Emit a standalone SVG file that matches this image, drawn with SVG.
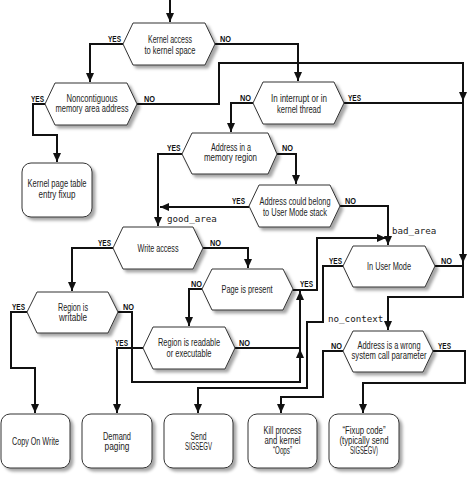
<svg xmlns="http://www.w3.org/2000/svg" width="468" height="477" viewBox="0 0 468 477">
<defs>
<style>
.shape{fill:#fff;stroke:#333;stroke-width:1;filter:url(#sh)}
.t{font-family:"Liberation Sans",Arial,sans-serif;font-size:10.5px;fill:#222;text-anchor:middle}
.lb{font-family:"Liberation Sans",Arial,sans-serif;font-size:9.5px;font-weight:bold;fill:#111}
.m{font-family:"DejaVu Sans Mono","Liberation Mono",monospace;font-size:9.2px;fill:#222}
.c path{fill:none;stroke:#111;stroke-width:2;stroke-linejoin:miter}
.c path.a{marker-end:url(#ar)}
</style>
<filter id="sh" x="-15%" y="-15%" width="140%" height="150%">
<feDropShadow dx="3" dy="3" stdDeviation="1.8" flood-color="#000" flood-opacity="0.35"/>
</filter>
<marker id="ar" viewBox="0 0 10 10" refX="10" refY="5" markerWidth="9" markerHeight="8" markerUnits="userSpaceOnUse" orient="auto" preserveAspectRatio="none">
<path d="M0,0 L10,5 L0,10 z" fill="#111"/>
</marker>
</defs>

<g id="connectors" class="c">
<path class="a" d="M170,0 V22"/>
<path class="a" d="M123,44 H90 V82"/>
<path class="a" d="M215,44 H298 V81"/>
<path class="a" d="M45,104 H33 V135 H57 V162"/>
<path class="a" d="M137,104 H219 V63 H463 V101"/>
<path class="a" d="M463,100 V263"/>
<path class="a" d="M463,262 V297 H388 V330"/>
<path d="M435,266 H464"/>
<path d="M344,103 H464"/>
<path class="a" d="M253,103 H231 V132"/>
<path class="a" d="M277,154 H296 V184"/>
<path class="a" d="M182,154 H158 V226"/>
<path class="a" d="M249,207 H160"/>
<path class="a" d="M340,206 H388 V245"/>
<path class="a" d="M113,248 H72 V291"/>
<path class="a" d="M203,248 H248 V268"/>
<path class="a" d="M202,289 H189 V326"/>
<path class="a" d="M293,290 H317 V238 H386"/>
<path class="a" d="M235,348 H300 V291"/>
<path class="a" d="M118,312 H132 V382 H300 V349"/>
<path class="a" d="M27,312 H11 V368 H35 V413"/>
<path class="a" d="M143,348 H117 V413"/>
<path class="a" d="M343,266 H323 V322 H307 V388 H198 V413"/>
<path class="a" d="M343,351 H323 V397 H281 V413"/>
<path class="a" d="M433,351 H465 V383 H363 V413"/>
</g>

<g id="n-kernel-access">
<polygon class="shape" points="123,44 133,23 205,23 215,44 205,65 133,65"/>
<text class="t" transform="translate(170,42.5) scale(0.75,1)" textLength="58.7" lengthAdjust="spacingAndGlyphs">Kernel access</text>
<text class="t" transform="translate(170,53.5) scale(0.75,1)" textLength="68" lengthAdjust="spacingAndGlyphs">to kernel space</text>
<text class="lb" transform="translate(108,42) scale(0.75,1)" textLength="17.3" lengthAdjust="spacingAndGlyphs">YES</text>
<text class="lb" transform="translate(220,42) scale(0.75,1)" textLength="14.7" lengthAdjust="spacingAndGlyphs">NO</text>
</g>

<g id="n-noncontiguous">
<polygon class="shape" points="45,104 55,83 127,83 137,104 127,125 55,125"/>
<text class="t" transform="translate(92,101.5) scale(0.75,1)" textLength="68" lengthAdjust="spacingAndGlyphs">Noncontiguous</text>
<text class="t" transform="translate(92,111.5) scale(0.75,1)" textLength="97.3" lengthAdjust="spacingAndGlyphs">memory area address</text>
<text class="lb" transform="translate(31,101.5) scale(0.75,1)" textLength="17.3" lengthAdjust="spacingAndGlyphs">YES</text>
<text class="lb" transform="translate(144,101.5) scale(0.75,1)" textLength="14.7" lengthAdjust="spacingAndGlyphs">NO</text>
</g>

<g id="n-interrupt">
<polygon class="shape" points="253,103 263,82 334,82 344,103 334,124 263,124"/>
<text class="t" transform="translate(299,101.5) scale(0.75,1)" textLength="74.7" lengthAdjust="spacingAndGlyphs">In interrupt or in</text>
<text class="t" transform="translate(299,112.5) scale(0.75,1)" textLength="58.7" lengthAdjust="spacingAndGlyphs">kernel thread</text>
<text class="lb" transform="translate(240,101) scale(0.75,1)" textLength="14.7" lengthAdjust="spacingAndGlyphs">NO</text>
<text class="lb" transform="translate(348,101) scale(0.75,1)" textLength="17.3" lengthAdjust="spacingAndGlyphs">YES</text>
</g>

<g id="n-kernel-fixup">
<rect class="shape" x="22" y="163" width="70" height="54" rx="9"/>
<text class="t" transform="translate(57,187) scale(0.75,1)" textLength="78.7" lengthAdjust="spacingAndGlyphs">Kernel page table</text>
<text class="t" transform="translate(57,197.5) scale(0.75,1)" textLength="49.3" lengthAdjust="spacingAndGlyphs">entry fixup</text>
</g>

<g id="n-address-region">
<polygon class="shape" points="182,154 192,133 268,133 277,154 268,174 192,174"/>
<text class="t" transform="translate(231,150.5) scale(0.75,1)" textLength="53.3" lengthAdjust="spacingAndGlyphs">Address in a</text>
<text class="t" transform="translate(230.5,160.5) scale(0.75,1)" textLength="70.7" lengthAdjust="spacingAndGlyphs">memory region</text>
<text class="lb" transform="translate(167,151) scale(0.75,1)" textLength="18" lengthAdjust="spacingAndGlyphs">YES</text>
<text class="lb" transform="translate(282,151) scale(0.75,1)" textLength="14.7" lengthAdjust="spacingAndGlyphs">NO</text>
</g>

<g id="n-address-stack">
<polygon class="shape" points="249,206 259,185 330,185 340,206 330,227 259,227"/>
<text class="t" transform="translate(295,204.5) scale(0.75,1)" textLength="94.7" lengthAdjust="spacingAndGlyphs">Address could belong</text>
<text class="t" transform="translate(295,215.5) scale(0.75,1)" textLength="85.3" lengthAdjust="spacingAndGlyphs">to User Mode stack</text>
<text class="lb" transform="translate(232,203.5) scale(0.75,1)" textLength="17.3" lengthAdjust="spacingAndGlyphs">YES</text>
<text class="lb" transform="translate(345,203.5) scale(0.75,1)" textLength="14.7" lengthAdjust="spacingAndGlyphs">NO</text>
</g>

<g id="labels-mono">
<text class="m" x="167" y="221.5">good_area</text>
<text class="m" x="392" y="234">bad_area</text>
<text class="m" x="328" y="322">no_context</text>
</g>

<g id="n-write-access">
<polygon class="shape" points="113,248 123,227 193,227 203,248 193,269 123,269"/>
<text class="t" transform="translate(158,251.5) scale(0.75,1)" textLength="54.7" lengthAdjust="spacingAndGlyphs">Write access</text>
<text class="lb" transform="translate(98,246) scale(0.75,1)" textLength="17.3" lengthAdjust="spacingAndGlyphs">YES</text>
<text class="lb" transform="translate(210,246) scale(0.75,1)" textLength="14.7" lengthAdjust="spacingAndGlyphs">NO</text>
</g>

<g id="n-page-present">
<polygon class="shape" points="202,289 212,269 283,269 293,289 283,310 212,310"/>
<text class="t" transform="translate(247,292.5) scale(0.75,1)" textLength="68" lengthAdjust="spacingAndGlyphs">Page is present</text>
<text class="lb" transform="translate(191,287) scale(0.75,1)" textLength="14.7" lengthAdjust="spacingAndGlyphs">NO</text>
<text class="lb" transform="translate(300,287) scale(0.75,1)" textLength="17.3" lengthAdjust="spacingAndGlyphs">YES</text>
</g>

<g id="n-user-mode">
<polygon class="shape" points="343,266 353,246 425,246 435,266 425,287 353,287"/>
<text class="t" transform="translate(389,269.5) scale(0.75,1)" textLength="58.7" lengthAdjust="spacingAndGlyphs">In User Mode</text>
<text class="lb" transform="translate(329,264) scale(0.75,1)" textLength="17.3" lengthAdjust="spacingAndGlyphs">YES</text>
<text class="lb" transform="translate(441,264) scale(0.75,1)" textLength="14.7" lengthAdjust="spacingAndGlyphs">NO</text>
</g>

<g id="n-region-writable">
<polygon class="shape" points="27,312 37,292 108,292 118,312 108,333 37,333"/>
<text class="t" transform="translate(73,310.5) scale(0.75,1)" textLength="40" lengthAdjust="spacingAndGlyphs">Region is</text>
<text class="t" transform="translate(73,320.5) scale(0.75,1)" textLength="37.3" lengthAdjust="spacingAndGlyphs">writable</text>
<text class="lb" transform="translate(12,310) scale(0.75,1)" textLength="17.3" lengthAdjust="spacingAndGlyphs">YES</text>
<text class="lb" transform="translate(123,310) scale(0.75,1)" textLength="14.7" lengthAdjust="spacingAndGlyphs">NO</text>
</g>

<g id="n-region-readable">
<polygon class="shape" points="143,348 153,327 225,327 235,348 225,369 153,369"/>
<text class="t" transform="translate(189,345.8) scale(0.75,1)" textLength="82.7" lengthAdjust="spacingAndGlyphs">Region is readable</text>
<text class="t" transform="translate(189,356.5) scale(0.75,1)" textLength="60" lengthAdjust="spacingAndGlyphs">or executable</text>
<text class="lb" transform="translate(115,346) scale(0.75,1)" textLength="17.3" lengthAdjust="spacingAndGlyphs">YES</text>
<text class="lb" transform="translate(239,346) scale(0.75,1)" textLength="14.7" lengthAdjust="spacingAndGlyphs">NO</text>
</g>

<g id="n-address-wrong">
<polygon class="shape" points="343,351 353,331 423,331 433,351 423,372 353,372"/>
<text class="t" transform="translate(389,348.5) scale(0.75,1)" textLength="84" lengthAdjust="spacingAndGlyphs">Address is a wrong</text>
<text class="t" transform="translate(389,359) scale(0.75,1)" textLength="100" lengthAdjust="spacingAndGlyphs">system call parameter</text>
<text class="lb" transform="translate(331,349) scale(0.75,1)" textLength="14.7" lengthAdjust="spacingAndGlyphs">NO</text>
<text class="lb" transform="translate(438,349) scale(0.75,1)" textLength="17.3" lengthAdjust="spacingAndGlyphs">YES</text>
</g>

<g id="n-copy-on-write">
<rect class="shape" x="1" y="414" width="69" height="54" rx="9"/>
<text class="t" transform="translate(35.5,444.5) scale(0.75,1)" textLength="62.7" lengthAdjust="spacingAndGlyphs">Copy On Write</text>
</g>

<g id="n-demand-paging">
<rect class="shape" x="82" y="414" width="70" height="54" rx="9"/>
<text class="t" transform="translate(117,439.5) scale(0.75,1)" textLength="37.3" lengthAdjust="spacingAndGlyphs">Demand</text>
<text class="t" transform="translate(117,449.5) scale(0.75,1)" textLength="33.3" lengthAdjust="spacingAndGlyphs">paging</text>
</g>

<g id="n-send-sigsegv">
<rect class="shape" x="164" y="414" width="69" height="54" rx="9"/>
<text class="t" transform="translate(198.5,439.5) scale(0.75,1)" textLength="21.3" lengthAdjust="spacingAndGlyphs">Send</text>
<text class="t" transform="translate(198.5,449.5) scale(0.75,1)" textLength="36" lengthAdjust="spacingAndGlyphs">SIGSEGV</text>
</g>

<g id="n-kill-process">
<rect class="shape" x="248" y="414" width="69" height="54" rx="9"/>
<text class="t" transform="translate(282.5,433.5) scale(0.75,1)" textLength="50.7" lengthAdjust="spacingAndGlyphs">Kill process</text>
<text class="t" transform="translate(282.5,443.5) scale(0.75,1)" textLength="48" lengthAdjust="spacingAndGlyphs">and kernel</text>
<text class="t" transform="translate(282.5,453.5) scale(0.75,1)" textLength="25.3" lengthAdjust="spacingAndGlyphs">“Oops”</text>
</g>

<g id="n-fixup-code">
<rect class="shape" x="329" y="414" width="70" height="54" rx="9"/>
<text class="t" transform="translate(364,433.5) scale(0.75,1)" textLength="57.3" lengthAdjust="spacingAndGlyphs">“Fixup code”</text>
<text class="t" transform="translate(364,443.5) scale(0.75,1)" textLength="65.3" lengthAdjust="spacingAndGlyphs">(typically send</text>
<text class="t" transform="translate(364,453.5) scale(0.75,1)" textLength="37.3" lengthAdjust="spacingAndGlyphs">SIGSEGV)</text>
</g>
</svg>
